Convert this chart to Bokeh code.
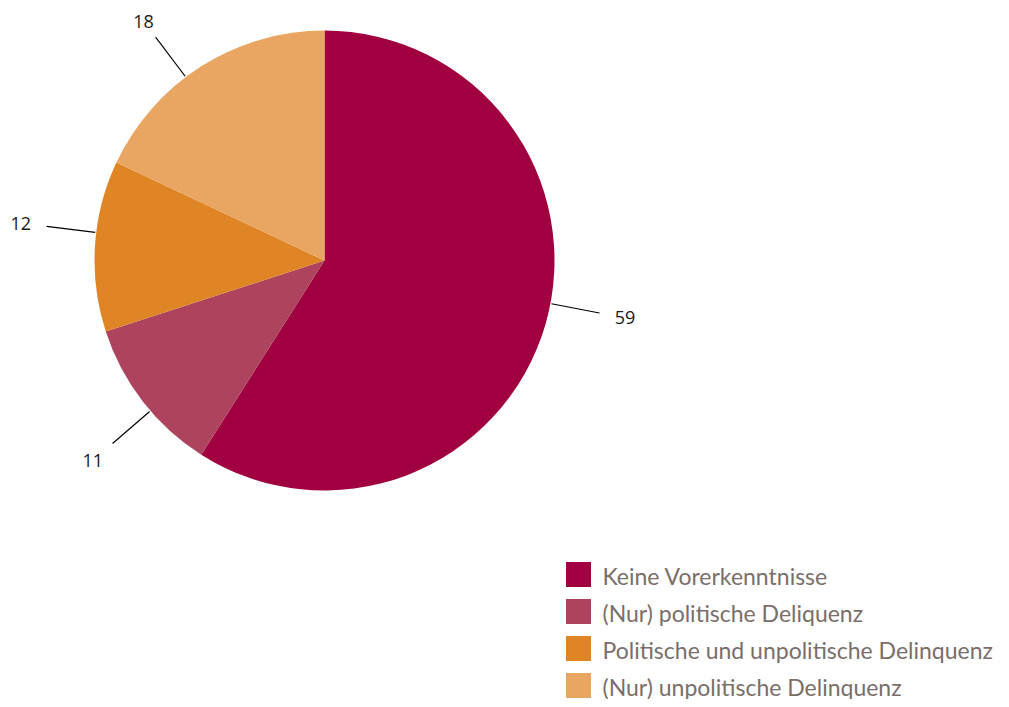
import math
from bokeh.plotting import figure
from bokeh.models import ColumnDataSource, Range1d
from bokeh.core.properties import value
from bokeh.embed import file_html
from bokeh.resources import INLINE

# ---- data ----
categories = ["Keine Vorerkenntnisse", "(Nur) politische Deliquenz",
              "Politische und unpolitische Delinquenz", "(Nur) unpolitische Delinquenz"]
values = [59, 11, 12, 18]
colors = ["#A0003F", "#AE435E", "#E08526", "#E9A562"]

# ---- layout / style ----
W, H = 1001, 699
CX, CY = 324, 707 - 260    # pie centre in data (pixel-like) units
R = 230
label_angle_shift = [5.4, 3.0, -3.4, 4.7]   # degrees, leader-line offset from mid angle
label_r = [306, 306, 306, 300]
line_r0, line_r1 = 231, 280

p = figure(width=W, height=H, output_backend="svg", toolbar_location=None,
           x_range=Range1d(0, W), y_range=Range1d(707 - H, 707),
           min_border=0, outline_line_color=None)
p.axis.visible = False
p.grid.visible = False

total = sum(values)
starts, ends, mids = [], [], []
cum = 0
for v in values:
    a0 = math.pi / 2 - 2 * math.pi * cum / total
    cum += v
    a1 = math.pi / 2 - 2 * math.pi * cum / total
    starts.append(a0); ends.append(a1); mids.append((a0 + a1) / 2)

src = ColumnDataSource(dict(start=starts, end=ends, color=colors))
p.wedge(x=CX, y=CY, radius=R, start_angle="start", end_angle="end", direction="clock",
        fill_color="color", line_color=None, source=src)

lx0, ly0, lx1, ly1, tx, ty, txt = [], [], [], [], [], [], []
for m, s, lr, v in zip(mids, label_angle_shift, label_r, values):
    a = m + math.radians(s)
    lx0.append(CX + line_r0 * math.cos(a)); ly0.append(CY + line_r0 * math.sin(a))
    lx1.append(CX + line_r1 * math.cos(a)); ly1.append(CY + line_r1 * math.sin(a))
    tx.append(CX + lr * math.cos(a)); ty.append(CY + lr * math.sin(a))
    txt.append(str(v))
p.segment(x0=lx0, y0=ly0, x1=lx1, y1=ly1, line_color="black", line_width=1.2)
p.text(x=tx, y=ty, text=txt, text_align="center", text_baseline="middle",
       text_font=value("Open Sans"), text_font_size="18px", text_color="#1a1a1a")

# ---- legend (manual) ----
leg_x, leg_y0, leg_dy, sq = 578, 707 - 574, 37, 25
ly = [leg_y0 - i * leg_dy for i in range(len(categories))]
p.rect(x=[leg_x] * len(categories), y=ly, width=sq, height=sq,
       fill_color=colors, line_color=None)
p.text(x=[leg_x + 24] * len(categories), y=[y - 1 for y in ly], text=categories,
       text_align="left", text_baseline="middle",
       text_font=value("Lato"), text_font_size="23px", text_color="#7A6E6A")

open("out.html", "w").write(file_html(p, INLINE))
